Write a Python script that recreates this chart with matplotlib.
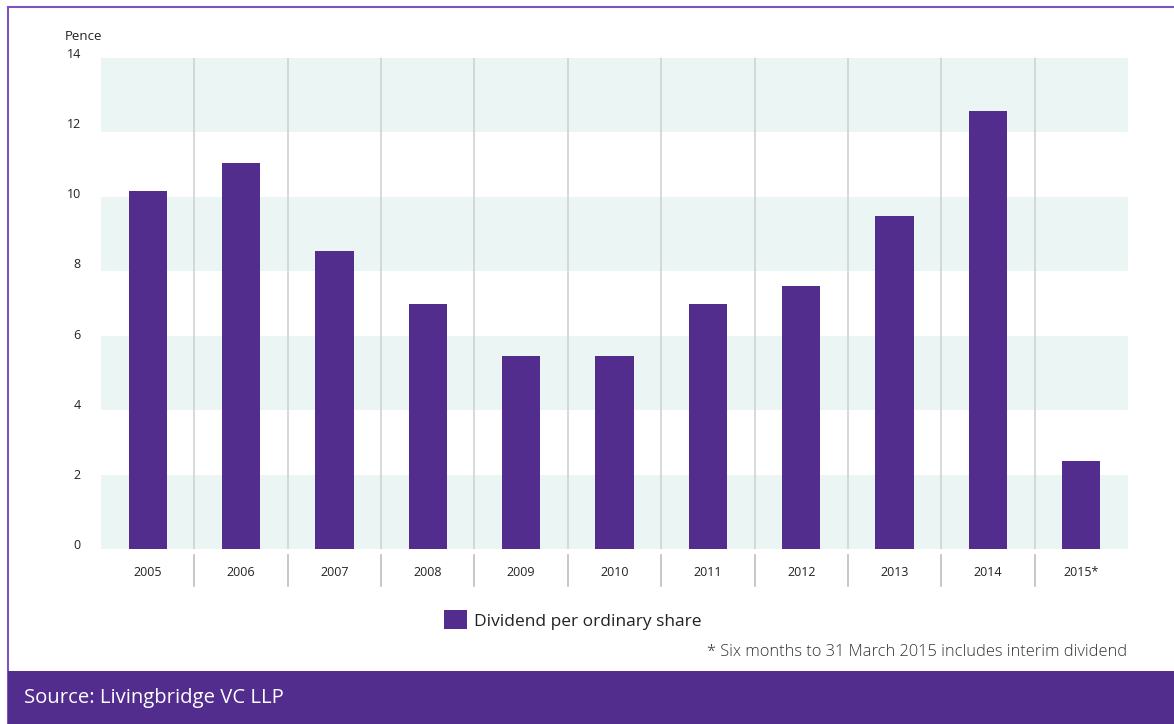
import matplotlib.pyplot as plt
import matplotlib.transforms as mtransforms
from matplotlib.patches import Rectangle

# Data
years = ["2005", "2006", "2007", "2008", "2009", "2010", "2011", "2012", "2013", "2014", "2015*"]
dividend = [10.2, 11.0, 8.5, 7.0, 5.5, 5.5, 7.0, 7.5, 9.5, 12.5, 2.5]
yticks = [0, 2, 4, 6, 8, 10, 12, 14]
# shaded background bands (a bit wider than 2 units in the original)
bands = [(0, 2.1), (3.97, 6.08), (7.94, 10.05), (11.9, 14)]

purple = "#532D8E"
band = "#EBF5F3"
plt.rcParams['font.family'] = ['Open Sans', 'DejaVu Sans']

W, H = 1174, 724
fig = plt.figure(figsize=(W / 100, H / 100), dpi=100)

# outer border and footer band
fig.patches.append(Rectangle((8 / W, 0), 1 - 8 / W + 0.01, 1 - 7 / H, transform=fig.transFigure,
                             fill=False, edgecolor="#7A55BE", linewidth=1.5))
fig.patches.append(Rectangle((8 / W, 0), 1, (H - 671) / H, transform=fig.transFigure,
                             facecolor=purple, edgecolor="none"))

ax = fig.add_axes([101 / W, 1 - 549 / H, (1128 - 101) / W, (549 - 58) / H])
x = list(range(len(years)))

for lo, hi in bands:
    ax.axhspan(lo, hi, color=band, zorder=0, lw=0)

# category separators
trans = mtransforms.blended_transform_factory(ax.transData, ax.transAxes)
for i in range(len(years) - 1):
    ax.plot([i + 0.5, i + 0.5], [0, 1], color="#D0D3D3", lw=1.2, transform=trans, zorder=1)
    ax.plot([i + 0.5, i + 0.5], [-0.012, -0.075], color="#BDBDBD", lw=1.2,
            transform=trans, clip_on=False)

ax.bar(x, dividend, width=0.41, color=purple, zorder=2, label="Dividend per ordinary share")

ax.set_xlim(-0.5, len(years) - 0.5)
ax.set_ylim(0, 14)
ax.set_yticks(yticks)
ax.set_yticklabels([str(v) for v in yticks], fontsize=9, color="#222222")
ax.set_xticks(x)
ax.set_xticklabels(years, fontsize=9, color="#222222")
ax.tick_params(axis="y", length=0, pad=14.5)
ax.tick_params(axis="x", length=0, pad=12.5)
for s in ax.spines.values():
    s.set_visible(False)

# y labels sit a little above their values
shift = mtransforms.ScaledTranslation(0, 5 / 100, fig.dpi_scale_trans)
for lbl in ax.get_yticklabels():
    lbl.set_transform(lbl.get_transform() + shift)

fig.text(65 / W, 1 - 37 / H, "Pence", fontsize=9.5, color="#222222", va="center", ha="left")

# legend
leg = fig.legend(loc="center left", bbox_to_anchor=(444 / W, 1 - 620 / H), frameon=False,
                 fontsize=12.5, handlelength=1.3, handleheight=1.3, handletextpad=0.45,
                 borderaxespad=0, borderpad=0)
for t in leg.get_texts():
    t.set_color("#222222")

fig.text(1127 / W, 1 - 652 / H, "* Six months to 31 March 2015 includes interim dividend",
         fontsize=11.8, color="#333333", ha="right", va="center", fontweight="light")
fig.text(24 / W, 1 - 698 / H, "Source: Livingbridge VC LLP", fontsize=14.6, color="white",
         ha="left", va="center")

fig.savefig("out.png", dpi=100)
